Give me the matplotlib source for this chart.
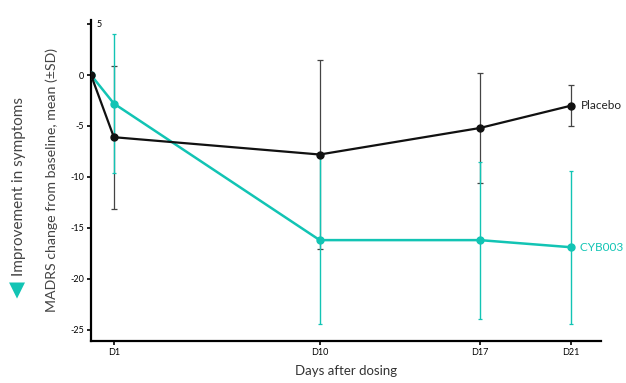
import matplotlib.pyplot as plt

# data
days = [0, 1, 10, 17, 21]
placebo_mean = [0, -6.1, -7.8, -5.2, -3.0]
placebo_sd = [0, 7.0, 9.3, 5.4, 2.0]
cyb_mean = [0, -2.8, -16.2, -16.2, -16.9]
cyb_sd = [0, 6.8, 8.2, 7.7, 7.5]
tick_days = [1, 10, 17, 21]
tick_labels = ["D1", "D10", "D17", "D21"]
y_ticks = [5, 0, -5, -10, -15, -20, -25]

teal = "#12c4b4"
plt.rcParams['font.family'] = ['Lato', 'DejaVu Sans']

fig = plt.figure(figsize=(6.26, 3.83), dpi=100)
ax = fig.add_axes([91/626, 42/383, 510/626, 321/383])

# error bars (skip baseline point)
ax.errorbar(days[1:], placebo_mean[1:], yerr=placebo_sd[1:], fmt='none',
            ecolor='#444444', elinewidth=0.9, capsize=2, capthick=0.9, zorder=2)
ax.errorbar(days[1:], cyb_mean[1:], yerr=cyb_sd[1:], fmt='none',
            ecolor=teal, elinewidth=1.0, capsize=1.5, capthick=0.9, zorder=3)

ax.plot(days, cyb_mean, color=teal, lw=1.8, marker='o', ms=5, zorder=4)
ax.plot(days, placebo_mean, color='#111111', lw=1.6, marker='o', ms=5, zorder=5)

ax.text(21.4, placebo_mean[-1], "Placebo", fontsize=8.5, va='center', color='#222222')
ax.text(21.4, cyb_mean[-1], "CYB003 12mg", fontsize=8.5, va='center', color=teal,
        clip_on=False)

ax.set_xlim(0, 22.3)
ax.set_ylim(-26.1, 5.4)
ax.set_xticks(tick_days)
ax.set_xticklabels(tick_labels, fontsize=6.5)
ax.set_yticks(y_ticks)
ax.set_yticklabels([""] + [str(v) for v in y_ticks[1:]], fontsize=6.5)
ax.text(0.25, 5, "5", fontsize=6.5, va='center', ha='left')
ax.tick_params(axis='both', length=3, width=1.2, pad=2)

for s in ['top', 'right']:
    ax.spines[s].set_visible(False)
for s in ['left', 'bottom']:
    ax.spines[s].set_linewidth(1.6)

ax.set_xlabel("Days after dosing", fontsize=9.5, color='#333333', labelpad=6)
ax.set_ylabel("MADRS change from baseline, mean (\u00b1SD)", fontsize=10.2,
              color='#444444', labelpad=9)

fig.text(19/626, 1 - 187/383, "Improvement in symptoms", rotation=90, fontsize=11,
         color='#444444', ha='center', va='center')
fig.text(17/626, 1 - 290/383, "\u25bc", fontsize=15, color=teal, ha='center', va='center',
         family='DejaVu Sans')

fig.savefig("out.png", dpi=100)
